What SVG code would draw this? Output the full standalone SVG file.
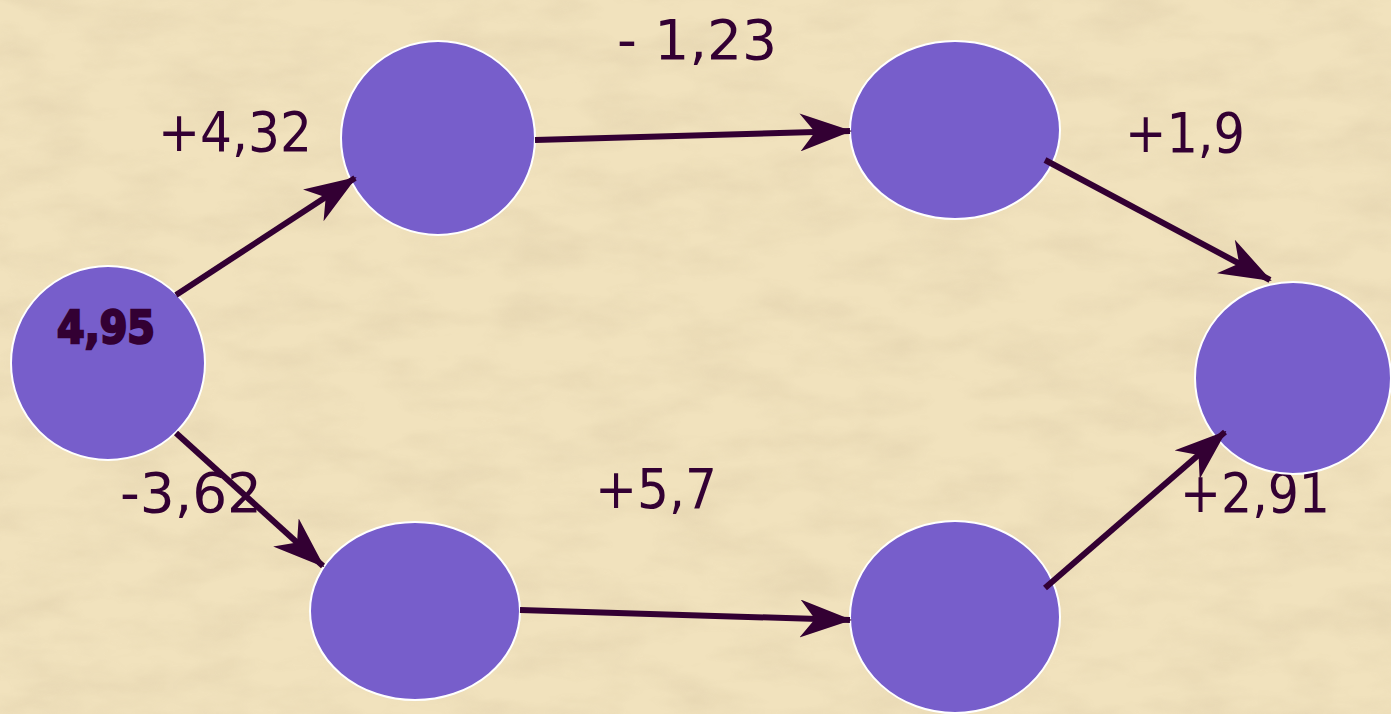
<svg xmlns="http://www.w3.org/2000/svg" width="1391" height="714" viewBox="0 0 1391 714">
<style>
.node{fill:#775ecb;stroke:#ffffff;stroke-width:2}
.lbl{font-family:"DejaVu Sans Condensed","DejaVu Sans","Liberation Sans",sans-serif;font-stretch:condensed;font-size:56px;fill:#330033}
.edge{stroke:#330033;stroke-width:6;fill:none;marker-end:url(#ah)}
</style>
<defs>
<marker id="ah" viewBox="0 0 52 38" refX="50" refY="19" markerWidth="52" markerHeight="38" markerUnits="userSpaceOnUse" orient="auto">
<path d="M0,0 L52,19 L0,38 L15,19 Z" fill="#330033"/>
</marker>
<filter id="tex" x="0" y="0" width="100%" height="100%">
<feTurbulence type="fractalNoise" baseFrequency="0.012 0.03" numOctaves="4" seed="7" result="n"/>
<feColorMatrix in="n" type="matrix" values="0 0 0 0 0.76  0 0 0 0 0.64  0 0 0 0 0.42  0 0 0 1.6 -0.6"/>
</filter>
</defs>
<rect width="1391" height="714" fill="#f1e2bd"/>
<rect width="1391" height="714" filter="url(#tex)" opacity="0.7"/>
<g id="labels">
<text class="lbl" x="158" y="151" textLength="154" lengthAdjust="spacingAndGlyphs">+4,32</text>
<text class="lbl" x="617" y="59" textLength="160" lengthAdjust="spacingAndGlyphs">- 1,23</text>
<text class="lbl" x="1125" y="152" textLength="120" lengthAdjust="spacingAndGlyphs">+1,9</text>
<text class="lbl" x="120" y="512" textLength="142" lengthAdjust="spacingAndGlyphs">-3,62</text>
<text class="lbl" x="595" y="508" textLength="122" lengthAdjust="spacingAndGlyphs">+5,7</text>
<text class="lbl" x="1180" y="512" textLength="150" lengthAdjust="spacingAndGlyphs">+2,91</text>
</g>
<g id="nodeA"><circle class="node" cx="108" cy="363" r="97"/>
<text x="57" y="343" font-family="'DejaVu Sans','Liberation Sans',sans-serif" font-weight="bold" font-size="45" fill="#330033" textLength="98" lengthAdjust="spacingAndGlyphs" stroke="#330033" stroke-width="2.5">4,95</text></g>
<g id="nodeB"><ellipse class="node" cx="438" cy="138" rx="97" ry="97"/></g>
<g id="nodeC"><ellipse class="node" cx="955" cy="130" rx="105" ry="89"/></g>
<g id="nodeD"><ellipse class="node" cx="1293" cy="378" rx="98" ry="96"/></g>
<g id="nodeE"><ellipse class="node" cx="415" cy="611" rx="105" ry="89"/></g>
<g id="nodeF"><ellipse class="node" cx="955" cy="617" rx="105" ry="96"/></g>
<g id="connectors">
<line class="edge" x1="176" y1="295" x2="355" y2="178"/>
<line class="edge" x1="535" y1="140" x2="850" y2="131"/>
<line class="edge" x1="1045" y1="160" x2="1270" y2="280"/>
<line class="edge" x1="176" y1="433" x2="323" y2="566"/>
<line class="edge" x1="520" y1="610" x2="850" y2="620"/>
<line class="edge" x1="1045" y1="588" x2="1225" y2="432"/>
</g>
</svg>
